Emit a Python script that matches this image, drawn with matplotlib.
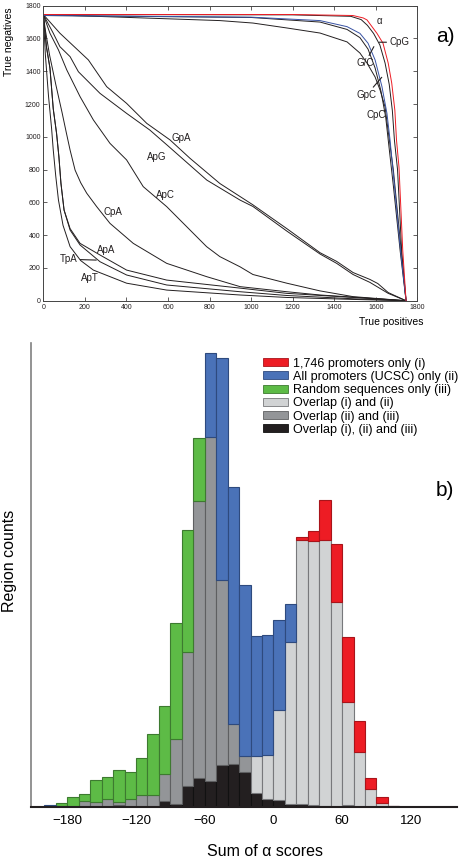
import matplotlib
matplotlib.use("Agg")
import matplotlib.pyplot as plt
import matplotlib.patches as patches

plt.rcParams['font.family'] = ['Liberation Sans', 'DejaVu Sans']

# ---- panel a: true positives / true negatives curves ----
alpha_x = [0, 1200, 1490, 1540, 1558, 1582, 1606, 1635, 1660, 1677, 1692, 1700, 1712, 1730, 1746]
alpha_y = [1746, 1746, 1740, 1725, 1713, 1672, 1631, 1571, 1450, 1328, 1163, 980, 815, 309, 0]
cpg_x = [0, 1200, 1480, 1530, 1560, 1590, 1620, 1645, 1665, 1680, 1690, 1705, 1725, 1746]
cpg_y = [1746, 1744, 1735, 1715, 1680, 1630, 1560, 1450, 1320, 1160, 980, 800, 300, 0]
gc_x = [0, 1000, 1332, 1462, 1524, 1563, 1597, 1630, 1654, 1669, 1690, 1720, 1746]
gc_y = [1740, 1730, 1709, 1672, 1631, 1571, 1469, 1306, 1143, 980, 700, 300, 0]
gpc_x = [0, 1000, 1332, 1462, 1524, 1563, 1597, 1625, 1648, 1662, 1685, 1718, 1746]
gpc_y = [1740, 1728, 1700, 1655, 1605, 1535, 1420, 1280, 1120, 960, 700, 300, 0]
cpc_x = [0, 850, 1009, 1172, 1332, 1404, 1462, 1524, 1558, 1597, 1621, 1645, 1672, 1685, 1746]
cpc_y = [1746, 1709, 1694, 1664, 1633, 1603, 1579, 1511, 1450, 1365, 1285, 1182, 919, 797, 0]

gpa_x = [0, 80, 217, 305, 401, 498, 610, 706, 850, 1009, 1172, 1332, 1412, 1491, 1572, 1610, 1660, 1746]
gpa_y = [1746, 1632, 1469, 1306, 1204, 1082, 981, 869, 715, 585, 440, 293, 240, 172, 130, 105, 50, 0]
apg_x = [0, 48, 80, 129, 169, 273, 401, 513, 600, 787, 947, 1009, 1172, 1332, 1412, 1491, 1572, 1660, 1746]
apg_y = [1746, 1632, 1550, 1489, 1397, 1265, 1143, 1041, 945, 736, 614, 575, 425, 285, 228, 160, 112, 45, 0]
apc_x = [0, 32, 73, 113, 177, 241, 321, 401, 481, 594, 786, 850, 947, 1009, 1172, 1332, 1491, 1746]
apc_y = [1746, 1632, 1530, 1408, 1245, 1103, 960, 859, 696, 574, 330, 269, 207, 160, 107, 60, 25, 0]
cpa_x = [0, 10, 30, 60, 90, 110, 129, 153, 180, 209, 257, 321, 433, 594, 786, 947, 1172, 1332, 1491, 1746]
cpa_y = [1746, 1650, 1500, 1320, 1150, 1030, 919, 797, 720, 656, 574, 472, 350, 228, 147, 86, 55, 35, 22, 0]
apa_x = [0, 15, 32, 48, 64, 75, 85, 100, 129, 177, 273, 401, 594, 947, 1172, 1491, 1746]
apa_y = [1746, 1550, 1420, 1170, 1020, 880, 716, 553, 440, 350, 279, 187, 126, 77, 45, 20, 0]
tpa_x = [0, 15, 32, 48, 64, 75, 85, 100, 129, 177, 273, 401, 594, 947, 1172, 1491, 1746]
tpa_y = [1746, 1550, 1420, 1170, 1020, 880, 716, 553, 431, 340, 238, 157, 96, 55, 32, 12, 0]
apt_x = [0, 10, 25, 40, 48, 60, 73, 95, 129, 180, 241, 401, 594, 947, 1172, 1491, 1746]
apt_y = [1746, 1500, 1250, 1050, 919, 760, 614, 460, 330, 245, 187, 107, 65, 35, 20, 8, 0]

# ---- panel b: stacked histogram of summed alpha scores ----
bin_centers = [-195, -185, -175, -165, -155, -145, -135, -125, -115, -105,
               -95, -85, -75, -65, -55, -45, -35, -25, -15, -5,
               5, 15, 25, 35, 45, 55, 65, 75, 85, 95, 105]
overlap_all = [1, 0, 0, 0, 0, 0, 2.5, 0, 0, 0,
               6, 2.7, 21, 29, 26, 42, 43, 35, 14, 8,
               7, 3.5, 3, 2.5, 1.3, 0.5, 2.5, 0, 0, 0, 0.6]
overlap_ii_iii = [0, 1, 0, 6, 5, 8.3, 2.5, 8.3, 12, 12,
                  27.3, 65, 134, 277, 344, 185, 40, 16, 0, 0,
                  0, 0, 0, 0, 0, 0, 0, 0, 0, 0, 0]
overlap_i_ii = [0, 0, 0, 0, 0, 0, 0, 0, 0, 0,
                0, 0, 0, 0, 0, 0, 0, 0, 37, 44,
                90, 161.5, 264, 263, 266, 204, 102.5, 54.7, 18, 4, 0]
random_only = [0, 2.7, 10, 7, 22, 21.7, 32, 26.7, 36.7, 61.3,
               67.4, 116.3, 122, 63, 0, 0, 0, 0, 0, 0,
               0, 0, 0, 0, 0, 0, 0, 0, 0, 0, 0]
ucsc_only = [1.5, 0, 0, 0, 0, 0, 0, 0, 0, 0,
             0, 0, 0, 0, 84, 222, 237, 171, 120, 120,
             90, 38, 0, 0, 0, 0, 0, 0, 0, 0, 0]
prom1746_only = [0, 0, 0, 0, 0, 0, 0, 0, 0, 0,
                 0, 0, 0, 0, 0, 0, 0, 0, 0, 0,
                 0, 0, 2.5, 10, 40, 58, 65, 31, 11.3, 5.7, 0.8]

fig = plt.figure(figsize=(4.64, 8.59), dpi=100)

# panel a
ax1 = fig.add_axes([0.0933, 0.6499, 0.806, 0.3435])
line_kw = dict(lw=0.7, color='#231f20')
for xs, ys in [(cpg_x, cpg_y), (gpc_x, gpc_y), (cpc_x, cpc_y), (gpa_x, gpa_y),
               (apg_x, apg_y), (apc_x, apc_y), (cpa_x, cpa_y), (apa_x, apa_y),
               (tpa_x, tpa_y), (apt_x, apt_y)]:
    ax1.plot(xs, ys, **line_kw)
ax1.plot(gc_x, gc_y, lw=0.7, color='#3953a4')
ax1.plot(alpha_x, alpha_y, lw=0.7, color='#ed1c24')
ax1.set_xlim(0, 1800)
ax1.set_ylim(0, 1800)
ax1.set_xticks(range(0, 1801, 200))
ax1.set_yticks(range(0, 1801, 200))
ax1.tick_params(direction='in', length=3, width=0.5, labelsize=5, pad=2,
                top=True, right=True, colors='#231f20')
for sp in ax1.spines.values():
    sp.set_linewidth(0.7)
    sp.set_color('#444444')

lab_kw = dict(fontsize=7, color='#231f20')
leader = dict(arrowstyle='-', lw=0.8, color='#231f20', shrinkA=0, shrinkB=0)
ax1.text(1617, 1709, 'α', ha='center', va='center', **lab_kw)
ax1.annotate('CpG', xy=(1617, 1577), xytext=(1665, 1577), ha='left', va='center',
             arrowprops=leader, **lab_kw)
ax1.annotate('G/C', xy=(1591, 1550), xytext=(1548, 1479), ha='center', va='top',
             arrowprops=leader, **lab_kw)
ax1.annotate('GpC', xy=(1629, 1363), xytext=(1556, 1286), ha='center', va='top',
             arrowprops=leader, **lab_kw)
ax1.text(1601, 1133, 'CpC', ha='center', va='center', **lab_kw)
ax1.text(666, 991, 'GpA', ha='center', va='center', **lab_kw)
ax1.text(546, 879, 'ApG', ha='center', va='center', **lab_kw)
ax1.text(586, 645, 'ApC', ha='center', va='center', **lab_kw)
ax1.text(337, 543, 'CpA', ha='center', va='center', **lab_kw)
ax1.text(302, 309, 'ApA', ha='center', va='center', **lab_kw)
ax1.annotate('TpA', xy=(255, 248), xytext=(165, 253), ha='right', va='center',
             arrowprops=leader, **lab_kw)
ax1.text(225, 137, 'ApT', ha='center', va='center', **lab_kw)

fig.text(9.5 / 464, 1 - 7 / 859, 'True negatives', rotation=90, ha='center', va='top', fontsize=7.5)
fig.text(391 / 464, 1 - 322 / 859, 'True positives', ha='center', va='center', fontsize=7.5)
fig.text(445 / 464, 1 - 37 / 859, 'a)', ha='center', va='center', fontsize=15)

# panel b
ax2 = fig.add_axes([0.0661, 0.0605, 0.918, 0.5405])
layers = [
    (overlap_all, '#231f20', '#111111', 'Overlap (i), (ii) and (iii)'),
    (overlap_ii_iii, '#939598', '#5e5f61', 'Overlap (ii) and (iii)'),
    (overlap_i_ii, '#d1d3d4', '#77787b', 'Overlap (i) and (ii)'),
    (random_only, '#5dbb46', '#3d7a30', 'Random sequences only (iii)'),
    (ucsc_only, '#4a72b8', '#2e4a7e', 'All promoters (UCSC) only (ii)'),
    (prom1746_only, '#ed1c24', '#a8141a', '1,746 promoters only (i)'),
]
bottom = [0.0] * len(bin_centers)
handles = {}
for vals, fc, ec, name in layers:
    keep = [i for i, v in enumerate(vals) if v > 0]
    ax2.bar([bin_centers[i] for i in keep], [vals[i] for i in keep], width=10,
            bottom=[bottom[i] for i in keep], color=fc, edgecolor=ec, linewidth=0.8)
    bottom = [b + v for b, v in zip(bottom, vals)]
    handles[name] = patches.Patch(facecolor=fc, edgecolor=ec, linewidth=0.6)

order = ['1,746 promoters only (i)', 'All promoters (UCSC) only (ii)',
         'Random sequences only (iii)', 'Overlap (i) and (ii)',
         'Overlap (ii) and (iii)', 'Overlap (i), (ii) and (iii)']
ax2.legend([handles[k] for k in order], order, loc='upper left',
           bbox_to_anchor=(0.545, 0.968), frameon=False, fontsize=9,
           handlelength=2.0, handleheight=0.6, labelspacing=0.1,
           handletextpad=0.45, borderpad=0, borderaxespad=0)

ax2.set_xlim(-212, 160)
ax2.set_ylim(0, 464)
ax2.set_xticks([-180, -120, -60, 0, 60, 120])
ax2.set_yticks([])
ax2.tick_params(axis='x', length=0, labelsize=9.5, pad=6)
ax2.spines['top'].set_visible(False)
ax2.spines['right'].set_visible(False)
ax2.spines['left'].set_color('#808080')
ax2.spines['left'].set_linewidth(1.2)
ax2.spines['bottom'].set_color('#231f20')
ax2.spines['bottom'].set_linewidth(1.5)

fig.text(265 / 464, 1 - 851 / 859, 'Sum of α scores', ha='center', va='center', fontsize=11.5)
fig.text(10 / 464, 1 - 561 / 859, 'Region counts', rotation=90, ha='center', va='center', fontsize=11.5)
fig.text(445 / 464, 1 - 490 / 859, 'b)', ha='center', va='center', fontsize=15)

fig.savefig('out.png', dpi=100)
